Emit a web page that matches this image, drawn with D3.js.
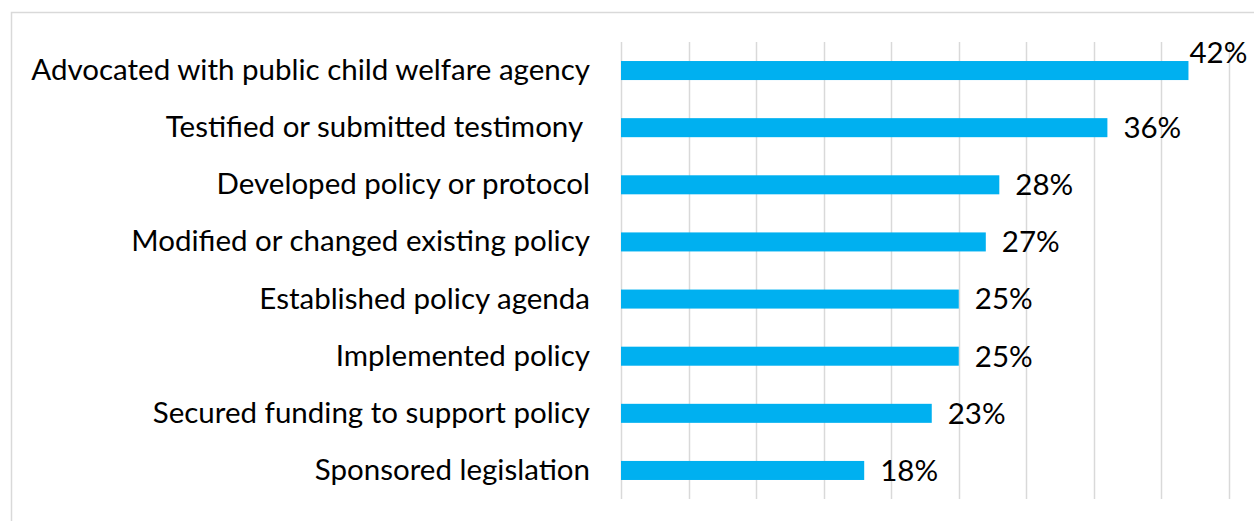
<!DOCTYPE html>
<html>
<head>
<meta charset="utf-8">
<script src="https://cdn.jsdelivr.net/npm/d3@7"></script>
<style>
  html, body { margin: 0; padding: 0; background: #fff; }
  svg { display: block; }
  text { font-family: Lato, "Open Sans", sans-serif; fill: #000; white-space: pre; }
</style>
</head>
<body>
<script>
// Policy activities reported, share of respondents (%)
const categories = [
  "Advocated with public child welfare agency",
  "Testified or submitted testimony ",
  "Developed policy or protocol",
  "Modified or changed existing policy",
  "Established policy agenda",
  "Implemented policy",
  "Secured funding to support policy",
  "Sponsored legislation"
];
const values = [42, 36, 28, 27, 25, 25, 23, 18];
const gridTicks = [0, 5, 10, 15, 20, 25, 30, 35, 40, 45];

const W = 1254, H = 521;
const plot = { left: 621, right: 1229, top: 42, bottom: 499 };
const fontSize = 29.5;

const svg = d3.select("body").append("svg")
  .attr("width", W).attr("height", H);

// chart frame
svg.append("rect")
  .attr("x", 11.5).attr("y", 12.5)
  .attr("width", W + 20).attr("height", H + 20)
  .attr("fill", "none").attr("stroke", "#d9d9d9").attr("stroke-width", 1.5);

const x = d3.scaleLinear().domain([0, 45]).range([plot.left, plot.right]);
const y = d3.scaleBand().domain(categories)
  .range([plot.top, plot.bottom])
  .paddingInner(0.667).paddingOuter(0.333);

// vertical gridlines
svg.append("g").selectAll("line").data(gridTicks).join("line")
  .attr("x1", d => Math.round(x(d)) + 0.5).attr("x2", d => Math.round(x(d)) + 0.5)
  .attr("y1", plot.top).attr("y2", plot.bottom)
  .attr("stroke", "#d9d9d9").attr("stroke-width", 1.5);

// category axis labels
const yAxis = d3.axisLeft(y).tickSize(0).tickPadding(0);
const gy = svg.append("g").attr("transform", `translate(${590},0)`).call(yAxis);
gy.select(".domain").remove();
gy.selectAll("text")
  .attr("font-size", fontSize)
  .style("font-family", "Lato, 'Open Sans', sans-serif")
  .attr("fill", "#000");

const data = categories.map((c, i) => ({ c, v: values[i] }));

// bars
svg.append("g").selectAll("rect").data(data).join("rect")
  .attr("x", x(0))
  .attr("y", d => y(d.c))
  .attr("width", d => x(d.v) - x(0))
  .attr("height", y.bandwidth())
  .attr("fill", "#00b0f0");

// value labels; a label that would run past the frame sits above the bar end
const labels = svg.append("g").selectAll("text").data(data).join("text")
  .attr("font-size", fontSize)
  .attr("dy", "0.35em")
  .text(d => d.v + "%");
labels.each(function(d) {
  const el = d3.select(this);
  const w = this.getComputedTextLength();
  let lx = x(d.v) + 16;
  let ly = y(d.c) + y.bandwidth() / 2;
  if (lx + w > W - 6) { lx = x(d.v) + 1; ly -= 18; }
  el.attr("x", lx).attr("y", ly);
});
</script>
</body>
</html>
